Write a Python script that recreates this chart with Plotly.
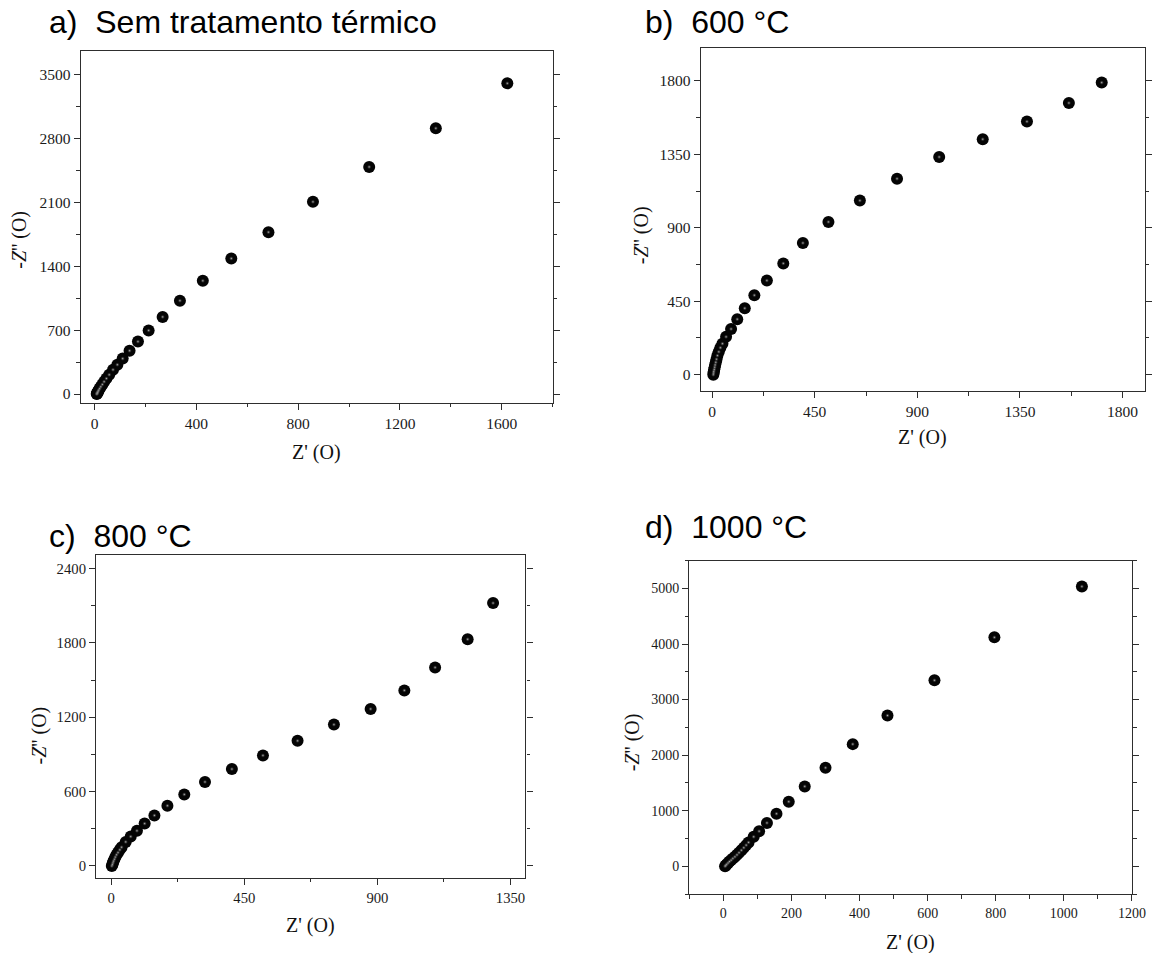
import plotly.graph_objects as go

W, H = 1166, 953

# ---- data (Z' , -Z'') ----
a_x = [8, 9, 10, 11.5, 13.5, 16, 19.5, 24, 30, 37, 46, 57, 72, 89, 110, 137, 170, 212, 267, 335, 425, 537, 683, 858, 1079, 1341, 1622]
a_y = [0, 5, 11, 20, 31, 44, 60, 80, 105, 135, 170, 211, 266, 321, 388, 474, 574, 696, 844, 1022, 1240, 1484, 1772, 2104, 2486, 2909, 3401]

b_x = [5, 6, 7, 9, 11, 13, 16, 19, 23, 29, 36, 45, 61, 83, 110, 143, 185, 240, 312, 398, 510, 648, 811, 996, 1187, 1381, 1565, 1709]
b_y = [0, 10, 20, 32, 46, 60, 76, 95, 117, 140, 165, 190, 232, 280, 340, 407, 487, 577, 682, 807, 936, 1067, 1201, 1334, 1443, 1551, 1665, 1790]

c_x = [2, 4, 6, 8, 11, 14, 18, 23, 29, 35, 49, 66, 87, 113, 146, 190, 247, 317, 408, 513, 630, 753, 877, 991, 1095, 1205, 1291]
c_y = [0, 12, 26, 40, 55, 72, 90, 108, 130, 151, 194, 237, 284, 342, 408, 486, 577, 678, 782, 892, 1010, 1141, 1267, 1417, 1602, 1830, 2122]

d_x = [5, 7, 10, 14, 18, 23, 28, 34, 40, 46, 53, 60, 67, 74, 89, 105, 128, 156, 192, 239, 300, 380, 482, 620, 796, 1053]
d_y = [0, 15, 35, 60, 85, 110, 140, 170, 205, 244, 288, 333, 380, 429, 530, 630, 780, 945, 1162, 1437, 1772, 2198, 2713, 3347, 4120, 5036]

titles = ["a)\u00a0 Sem tratamento térmico", "b)\u00a0 600 °C", "c)\u00a0 800 °C", "d)\u00a0 1000 °C"]
x_title = "Z' (O)"
y_title = "-<i>Z</i>'' (O)"

# ---- layout geometry (pixels) ----
panels = [
    dict(x=a_x, y=a_y, px=(81.7, 559.3), py=(51, 402.7), xr=[-55, 1800], yr=[-95, 3755],
         xd=400, yd=700, fs=15.5, tpos=(48, 22), xt=453, yt=(20, 240)),
    dict(x=b_x, y=b_y, px=(709.3, 1158.7), py=(48.3, 391), xr=[-50, 1898], yr=[-100, 2000],
         xd=450, yd=450, fs=15.5, tpos=(651, 22), xt=438, yt=(649, 235)),
    dict(x=c_x, y=c_y, px=(97.3, 531.7), py=(555, 877.7), xr=[-51, 1400], yr=[-95, 2510],
         xd=450, yd=600, fs=14.7, tpos=(48, 536), xt=925, yt=(39, 736)),
    dict(x=d_x, y=d_y, px=(697.7, 1145.7), py=(560.7, 894), xr=[-100, 1200], yr=[-500, 5500],
         xd=200, yd=1000, fs=14, tpos=(651, 527), xt=942, yt=(640, 742)),
]

AX = "#2e2e2e"
fig = go.Figure()
annotations = []
layout = {}
for i, p in enumerate(panels):
    sfx = "" if i == 0 else str(i + 1)
    xa, ya = "x" + sfx, "y" + sfx
    fig.add_trace(go.Scatter(x=p["x"], y=p["y"], xaxis=xa, yaxis=ya, mode="markers",
                             marker=dict(size=12, color="#040404", line=dict(width=0)),
                             showlegend=False, hoverinfo="skip"))
    fig.add_trace(go.Scatter(x=p["x"], y=p["y"], xaxis=xa, yaxis=ya, mode="markers",
                             marker=dict(size=5, color="rgba(0,0,0,0)", line=dict(width=0),
                                         gradient=dict(type="radial", color="rgba(210,210,210,0.85)")),
                             showlegend=False, hoverinfo="skip"))
    common = dict(showgrid=False, zeroline=False, showline=True, linecolor=AX, linewidth=1.4,
                  ticks="outside", ticklen=6, tickwidth=1.2, tickcolor=AX, tick0=0,
                  tickfont=dict(family="Liberation Serif", size=p["fs"], color="#1a1a1a"))
    layout["xaxis" + sfx] = dict(common, domain=[p["px"][0] / W, p["px"][1] / W], anchor=ya,
                                 range=p["xr"], dtick=p["xd"], mirror=True,
                                 minor=dict(dtick=p["xd"] / 2, tick0=0, ticks="outside", ticklen=3.5,
                                            tickwidth=1.2, tickcolor=AX))
    layout["yaxis" + sfx] = dict(common, domain=[1 - p["py"][1] / H, 1 - p["py"][0] / H], anchor=xa,
                                 range=p["yr"], dtick=p["yd"], mirror="ticks",
                                 minor=dict(dtick=p["yd"] / 2, tick0=0, ticks="outside", ticklen=3.5,
                                            tickwidth=1.2, tickcolor=AX))
    annotations.append(dict(text=titles[i], x=p["tpos"][0] / W, y=1 - p["tpos"][1] / H,
                            xref="paper", yref="paper", xanchor="left", yanchor="middle", showarrow=False,
                            font=dict(family="Liberation Sans", size=32, color="#000")))
    annotations.append(dict(text=x_title, x=(p["px"][0] + p["px"][1]) / 2 / W, y=1 - p["xt"] / H,
                            xref="paper", yref="paper", xanchor="center", yanchor="middle", showarrow=False,
                            font=dict(family="Liberation Serif", size=20, color="#111")))
    annotations.append(dict(text=y_title, x=p["yt"][0] / W, y=1 - p["yt"][1] / H, textangle=-90,
                            xref="paper", yref="paper", xanchor="center", yanchor="middle", showarrow=False,
                            font=dict(family="Liberation Serif", size=20, color="#111")))

fig.update_layout(width=W, height=H, margin=dict(l=0, r=0, t=0, b=0),
                  paper_bgcolor="white", plot_bgcolor="white",
                  annotations=annotations, **layout)
fig.write_html("out.html")
